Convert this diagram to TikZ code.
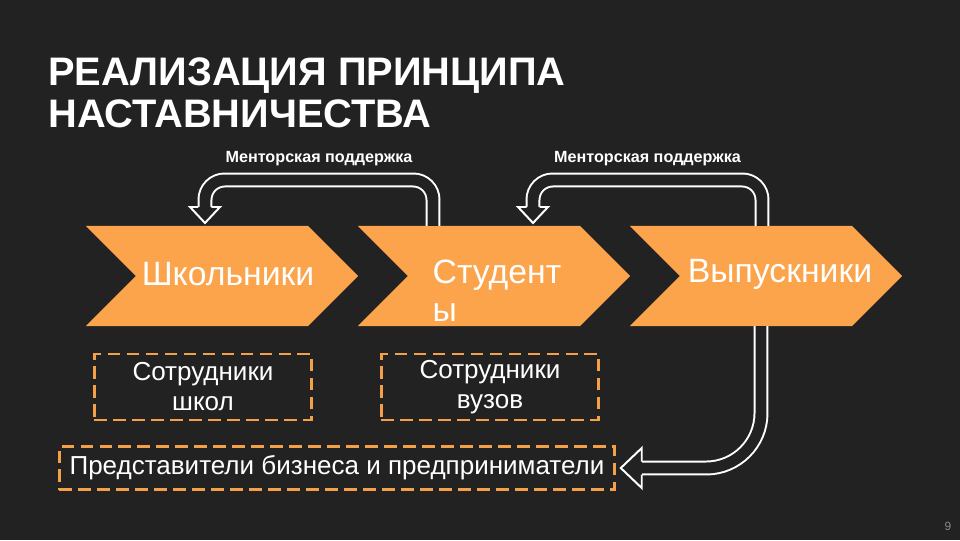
\documentclass[tikz,border=0pt]{standalone}
\usepackage{fontspec}
\setmainfont{Liberation Sans}
\usetikzlibrary{positioning, shapes.symbols}

\definecolor{bgdark}{HTML}{222222}
\definecolor{chevorange}{HTML}{FBA44B}
\definecolor{dashorange}{HTML}{F3A048}
\definecolor{pagegray}{HTML}{8A8A8A}

\tikzset{
  pics/hhead/.style={code={
    \fill[bgdark] (-#1,0) -- (0,#1+1) -- (#1,0) -- cycle;
    \draw[white, line width=1.4pt, line join=miter] (-6.5,0) -- (-#1,0) -- (0,#1+1) -- (#1,0) -- (6.5,0);
  }}
}

\begin{document}
\begin{tikzpicture}[
    x=0.025cm, y=-0.025cm,
    chev/.style={signal, signal to=east, signal from=west, fill=chevorange, minimum width=6.8cm, minimum height=2.5cm, inner sep=0pt, outer sep=0pt},
    chevtext/.style={text=white, font=\fontsize{24}{27}\selectfont, align=left, inner sep=0pt},
    staffbox/.style={draw=dashorange, line width=2.1pt, dash pattern=on 9pt off 4.5pt, text=white, align=center, font=\fontsize{18.5}{21.3}\selectfont, inner sep=0pt},
    hollow/.style={draw=white, line width=1.4pt, double=bgdark, double distance=7.8pt},
    mentor/.style={text=white, font=\bfseries\fontsize{11.5}{13}\selectfont, inner sep=0pt},
  ]
  \fill[bgdark] (0,0) rectangle (960,540);

  % Title
  \node[anchor=north west, text=white, font=\bfseries\fontsize{28.3}{30.5}\selectfont, align=left, inner sep=0pt] (title) at (48,57) {РЕАЛИЗАЦИЯ ПРИНЦИПА\\НАСТАВНИЧЕСТВА};

  % Chevrons
  \node[chev] (chev1) at (222,276) {};
  \node[chev] (chev2) at (494,276) {};
  \node[chev] (chev3) at (766,276) {};
  \node[chevtext] (pupils) at (228,274) {Школьники};
  \node[chevtext] (students) at (497,291) {Студент\\ы};
  \node[chevtext] (grads) at (780,274) {Выпускники};

  % Staff boxes
  \node[staffbox, minimum width=5.43cm, minimum height=1.65cm] (schoolstaff) at (203,387) {Сотрудники\\школ};
  \node[staffbox, minimum width=5.43cm, minimum height=1.65cm] (unistaff) at (490,387) {Сотрудники\\вузов};
  \node[staffbox, minimum width=13.88cm, minimum height=1.08cm] (business) at (337,468) {Представители бизнеса и предприниматели};

  % Mentoring arrows
  \draw[hollow, rounded corners=14pt] ([xshift=-1.525cm]chev2.north) -- ++(0,-46)
    -- node[mentor, above=9pt] {Менторская поддержка} ++(-228,0) -- ++(0,27) coordinate (h1);
  \pic at (h1) {hhead=15};
  \draw[hollow, rounded corners=14pt] ([xshift=-0.1cm]chev3.north) -- ++(0,-46)
    -- node[mentor, above=9pt] {Менторская поддержка} ++(-229,0) -- ++(0,27) coordinate (h2);
  \pic at (h2) {hhead=15};
  \draw[hollow, rounded corners=39pt] ([xshift=-0.125cm]chev3.south) |- ([xshift=0.64cm]business.east) coordinate (h3);
  \pic[rotate=-90] at (h3) {hhead=20};

  \node[text=pagegray, font=\fontsize{8.5}{10}\selectfont, inner sep=0pt] (pagenum) at (948,526) {9};
\end{tikzpicture}
\end{document}
